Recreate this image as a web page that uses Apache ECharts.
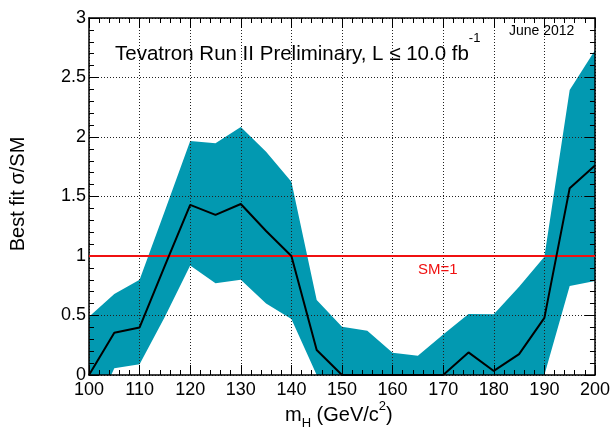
<!DOCTYPE html>
<html>
<head>
<meta charset="utf-8">
<title>Best fit σ/SM vs Higgs mass</title>
<script src="https://cdn.jsdelivr.net/npm/echarts@6/dist/echarts.min.js"></script>
<style>
  html, body { margin: 0; padding: 0; background: #ffffff; }
  #chart { width: 613px; height: 431px; }
</style>
</head>
<body>
<div id="chart"></div>
<script>
// Higgs mass hypotheses (GeV/c^2)
const mass = [100, 105, 110, 115, 120, 125, 130, 135, 140, 145, 150,
              155, 160, 165, 170, 175, 180, 185, 190, 195, 200];
// Best-fit signal strength (sigma / sigma_SM)
const bestFit = [0.00, 0.355, 0.40, 0.92, 1.43, 1.345, 1.437, 1.21, 1.00, 0.21, 0.00,
                 0.00, 0.00, 0.00, 0.00, 0.19, 0.034, 0.176, 0.48, 1.57, 1.76];
// 1 sigma band around the best fit
const bandHigh = [0.49, 0.68, 0.80, 1.38, 1.966, 1.947, 2.084, 1.877, 1.625, 0.63, 0.406,
                  0.372, 0.187, 0.162, 0.34, 0.513, 0.51, 0.742, 0.994, 2.395, 2.73];
const bandLow = [-0.40, 0.056, 0.09, 0.49, 0.92, 0.77, 0.80, 0.60, 0.47, 0.00, 0.00,
                 0.00, 0.00, 0.00, 0.00, 0.00, 0.00, 0.00, 0.00, 0.748, 0.79];
// Standard Model reference level
const smLevel = 1;
const massRange = [100, 200];

const FONT = "'Liberation Sans', Arial, Helvetica, sans-serif";

const chart = echarts.init(document.getElementById('chart'), null, { renderer: 'canvas' });

function frameAxis(extra) {
  return Object.assign({
    type: 'value',
    z: 3,
    axisLine: { show: true, onZero: false, lineStyle: { color: '#000', width: 1.5 } },
    axisTick: { show: true, inside: true, length: 10, lineStyle: { color: '#000', width: 1 } },
    minorTick: { show: true, splitNumber: 5, length: 5, lineStyle: { color: '#000', width: 1 } },
    splitLine: { show: false },
    axisLabel: { show: false }
  }, extra);
}

const dotted = { show: true, lineStyle: { color: '#222', width: 1, type: [1, 2] } };
const tickLabel = { show: true, color: '#000', fontSize: 18, fontFamily: FONT };

const option = {
  animation: false,
  backgroundColor: '#ffffff',
  grid: { left: 89, top: 18, width: 507, height: 357, show: false },
  xAxis: [
    frameAxis({ position: 'bottom', min: massRange[0], max: massRange[1], interval: 10,
      splitLine: dotted,
      axisLabel: Object.assign({}, tickLabel, { margin: 6 }) }),
    frameAxis({ position: 'top', min: massRange[0], max: massRange[1], interval: 10 })
  ],
  yAxis: [
    frameAxis({ position: 'left', min: 0, max: 3, interval: 0.5,
      splitLine: dotted,
      axisLabel: Object.assign({}, tickLabel, { margin: 3 }) }),
    frameAxis({ position: 'right', min: 0, max: 3, interval: 0.5 })
  ],
  series: [
    {
      // 1 sigma band, drawn as one filled polygon through the axes' scales
      type: 'custom',
      z: 2,
      clip: true,
      xAxisIndex: 0,
      yAxisIndex: 0,
      data: [[mass[0], bandHigh[0]]],
      renderItem: function (params, api) {
        const pts = [];
        for (let i = 0; i < mass.length; i++) pts.push(api.coord([mass[i], bandHigh[i]]));
        for (let i = mass.length - 1; i >= 0; i--) pts.push(api.coord([mass[i], bandLow[i]]));
        return {
          type: 'polygon',
          shape: { points: pts },
          style: { fill: '#0299b1', stroke: null }
        };
      },
      silent: true
    },
    {
      // SM = 1 reference line
      type: 'line',
      z: 4,
      data: massRange.map(m => [m, smLevel]),
      showSymbol: false,
      lineStyle: { color: '#f01010', width: 2 },
      silent: true
    },
    {
      // best-fit curve
      type: 'line',
      z: 5,
      clip: true,
      data: mass.map((m, i) => [m, bestFit[i]]),
      showSymbol: false,
      lineStyle: { color: '#000', width: 2 },
      silent: true
    }
  ],
  graphic: [
    {
      type: 'text', left: 115, top: 32, z: 10,
      style: {
        text: '{t|Tevatron Run II Preliminary, L ≤ 10.0 fb}{sup|-1}',
        rich: {
          t: { fontSize: 20.5, fontFamily: FONT, fill: '#000', verticalAlign: 'bottom',
               padding: [12, 0, 0, 0] },
          sup: { fontSize: 13, fontFamily: FONT, fill: '#000', verticalAlign: 'top' }
        }
      }
    },
    {
      type: 'text', left: 509, top: 24, z: 10,
      style: { text: 'June 2012', font: '14px ' + FONT, fill: '#000' }
    },
    {
      type: 'text', left: 418, top: 262, z: 10,
      style: { text: 'SM=1', font: '15px ' + FONT, fill: '#f01010' }
    },
    {
      type: 'text', z: 10,
      x: 18, y: 194, rotation: Math.PI / 2,
      style: { text: 'Best fit σ/SM', font: '20px ' + FONT, fill: '#000',
               align: 'center', verticalAlign: 'middle' }
    },
    {
      type: 'text', left: 285, top: 400, z: 10,
      style: {
        text: 'm{sub|H} (GeV/c{sup|2})',
        font: '20px ' + FONT, fill: '#000',
        rich: {
          sub: { fontSize: 13, fontFamily: FONT, fill: '#000', verticalAlign: 'bottom', lineHeight: 30 },
          sup: { fontSize: 13, fontFamily: FONT, fill: '#000', verticalAlign: 'top', lineHeight: 30 }
        }
      }
    }
  ]
};

chart.setOption(option);
</script>
</body>
</html>
